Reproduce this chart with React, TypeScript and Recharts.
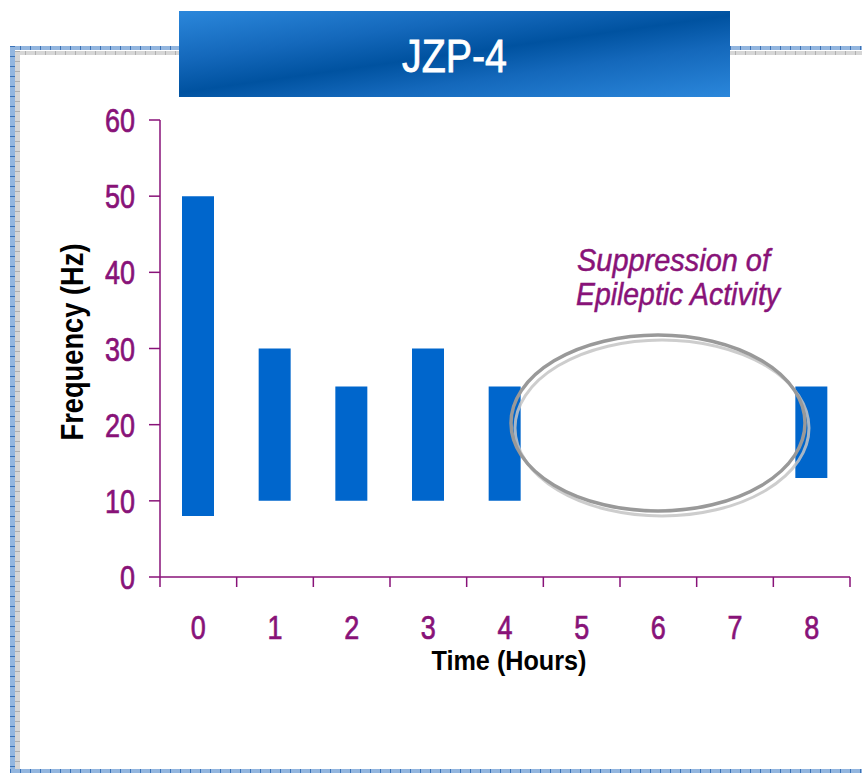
import React from "react";
import { Bar, BarChart, XAxis, YAxis } from "recharts";

const hours = ["0", "1", "2", "3", "4", "5", "6", "7", "8"];
const lowHz = [8, 10, 10, 10, 10, null, null, null, 13];
const highHz = [50, 30, 25, 30, 25, null, null, null, 25];
const yTicks = [0, 10, 20, 30, 40, 50, 60];

const PURPLE = "#881278";
const BLUE = "#0066cc";
const FONT = "'Liberation Sans', Arial, sans-serif";
const DIGIT_W = 15;

const data = hours.map((hour, i) => ({
  hour,
  range: lowHz[i] == null ? null : [lowHz[i], highHz[i]],
}));

function HourTick(props: any) {
  const { x, y, payload, index } = props;
  const half = payload.offset ?? 38;
  const label = String(payload.value);
  return (
    <g>
      <line x1={x - half} x2={x - half} y1={y - 10} y2={y} stroke={PURPLE} strokeWidth={1.5} />
      {index === hours.length - 1 && (
        <line x1={x + half} x2={x + half} y1={y - 10} y2={y} stroke={PURPLE} strokeWidth={1.5} />
      )}
      <text
        x={x}
        y={y + 52}
        textAnchor="middle"
        fill={PURPLE}
        stroke={PURPLE}
        strokeWidth={0.7}
        fontSize={33}
        fontFamily={FONT}
        textLength={label.length * DIGIT_W}
        lengthAdjust="spacingAndGlyphs"
      >
        {label}
      </text>
    </g>
  );
}

function FreqTick(props: any) {
  const { x, y, payload } = props;
  const label = String(payload.value);
  return (
    <text
      x={x}
      y={y + 12}
      textAnchor="end"
      fill={PURPLE}
      stroke={PURPLE}
      strokeWidth={0.7}
      fontSize={33}
      fontFamily={FONT}
      textLength={label.length * DIGIT_W}
      lengthAdjust="spacingAndGlyphs"
    >
      {label}
    </text>
  );
}

function strip(left: number, top: number, width: number, height: number, base: string, mark: string, vertical = false) {
  const dir = vertical ? "180deg" : "90deg";
  return (
    <div
      style={{
        position: "absolute",
        left,
        top,
        width,
        height,
        background: `repeating-linear-gradient(${dir}, ${mark} 0 1px, ${base} 1px 10px)`,
      }}
    />
  );
}

export default function App() {
  return (
    <div style={{ position: "absolute", left: 0, top: 0, width: 862, height: 773, background: "#fff", overflow: "hidden" }}>
      {/* frame */}
      {strip(10, 46, 852, 4, "#93b6df", "#3a72b8")}
      {strip(10, 46, 5, 727, "#93b6df", "#3a72b8", true)}
      {strip(10, 769, 852, 4, "#93b6df", "#3a72b8")}
      {strip(15, 51, 847, 4, "#d6d6d6", "#b0b0b0")}
      {strip(15, 51, 5, 718, "#d6d6d6", "#b0b0b0", true)}

      <div style={{ position: "absolute", left: 0, top: 0 }}>
        <BarChart width={862} height={773} data={data} margin={{ top: 120, right: 12, left: 100, bottom: 136 }}>
          <XAxis
            dataKey="hour"
            interval={0}
            height={60}
            tickLine={false}
            tickSize={10}
            tickMargin={0}
            axisLine={{ stroke: PURPLE, strokeWidth: 1.5 }}
            tick={<HourTick />}
            label={{
              content: () => (
                <text
                  x={509}
                  y={670}
                  textAnchor="middle"
                  fontSize={27}
                  fontWeight="bold"
                  fontFamily={FONT}
                  fill="#000"
                  textLength={155}
                  lengthAdjust="spacingAndGlyphs"
                >
                  Time (Hours)
                </text>
              ),
            }}
          />
          <YAxis
            width={60}
            domain={[0, 60]}
            ticks={yTicks}
            interval={0}
            tickSize={11}
            tickMargin={14}
            axisLine={{ stroke: PURPLE, strokeWidth: 1.5 }}
            tickLine={{ stroke: PURPLE, strokeWidth: 1.5 }}
            tick={<FreqTick />}
            label={{
              content: () => (
                <text
                  x={83}
                  y={342}
                  transform="rotate(-90 83 342)"
                  textAnchor="middle"
                  fontSize={32}
                  fontWeight="bold"
                  fontFamily={FONT}
                  fill="#000"
                  textLength={197}
                  lengthAdjust="spacingAndGlyphs"
                >
                  Frequency (Hz)
                </text>
              ),
            }}
          />
          <Bar dataKey="range" fill={BLUE} barSize={32} isAnimationActive={false} />
        </BarChart>
      </div>

      {/* annotation */}
      <svg width={862} height={773} style={{ position: "absolute", left: 0, top: 0, pointerEvents: "none" }}>
        <ellipse cx={662} cy={428} rx={147} ry={88} fill="none" stroke="#c4c4c4" strokeWidth={3} strokeOpacity={0.85} />
        <ellipse cx={658} cy={423} rx={147} ry={88} fill="none" stroke="#999" strokeWidth={3.5} />
        <text
          x={673.5}
          y={271}
          textAnchor="middle"
          fontSize={32}
          fontStyle="italic"
          fontFamily={FONT}
          fill={PURPLE}
          stroke={PURPLE}
          strokeWidth={0.5}
          textLength={193}
          lengthAdjust="spacingAndGlyphs"
        >
          Suppression of
        </text>
        <text
          x={678}
          y={305}
          textAnchor="middle"
          fontSize={32}
          fontStyle="italic"
          fontFamily={FONT}
          fill={PURPLE}
          stroke={PURPLE}
          strokeWidth={0.5}
          textLength={204}
          lengthAdjust="spacingAndGlyphs"
        >
          Epileptic Activity
        </text>
      </svg>

      {/* title banner */}
      <div
        style={{
          position: "absolute",
          left: 179,
          top: 11,
          width: 551,
          height: 86,
          background: "linear-gradient(172deg, #2b87db 0%, #1468bb 30%, #0052a0 50%, #1468bb 68%, #2b87db 100%)",
        }}
      >
        <svg width={551} height={86}>
          <text
            x={275.5}
            y={61}
            textAnchor="middle"
            fontSize={46}
            fontFamily={FONT}
            fill="#fff"
            stroke="#fff"
            strokeWidth={0.8}
            textLength={105}
            lengthAdjust="spacingAndGlyphs"
          >
            JZP-4
          </text>
        </svg>
      </div>
    </div>
  );
}
